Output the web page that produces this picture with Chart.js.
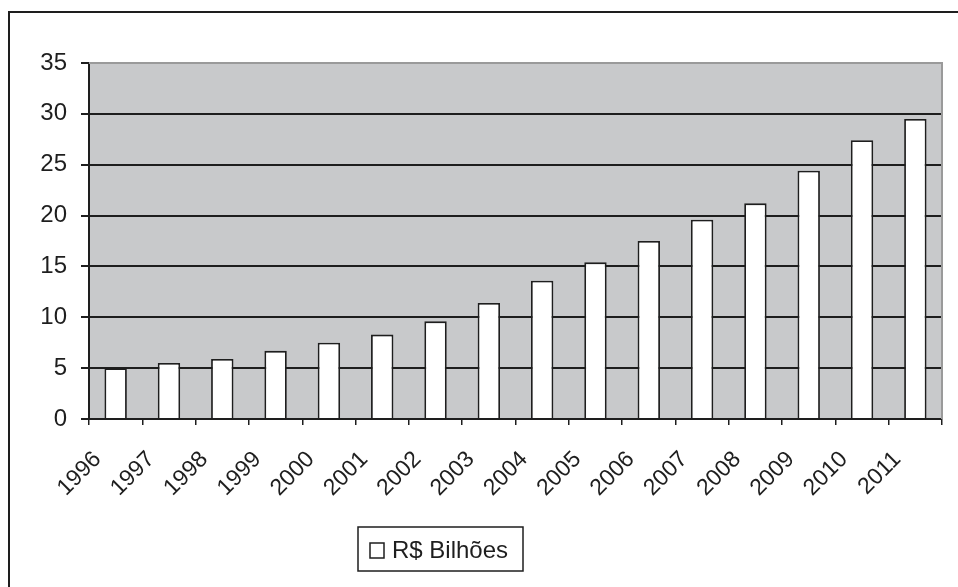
<!DOCTYPE html>
<html>
<head>
<meta charset="utf-8">
<script src="https://cdn.jsdelivr.net/npm/chart.js@4"></script>
<style>
  html, body { margin: 0; padding: 0; background: #fff; }
  #wrap { width: 958px; height: 587px; position: relative; }
</style>
</head>
<body>
<div id="wrap"><canvas id="chart1" width="958" height="587"></canvas></div>
<script>
"use strict"

// data
const years = ['1996','1997','1998','1999','2000','2001','2002','2003',
               '2004','2005','2006','2007','2008','2009','2010','2011']
const valores = [5.0, 5.5, 5.9, 6.7, 7.5, 8.3, 9.6, 11.4,
                 13.6, 15.4, 17.5, 19.6, 21.2, 24.4, 27.4, 29.5]
const serieNome = 'R$ Bilhões'
const yTicks = [0, 5, 10, 15, 20, 25, 30, 35]

const fonte = '"Liberation Sans", Arial, sans-serif'

// gray plot background, outer frame and legend box
const moldura = {
    id: 'moldura',
    beforeDraw(chart){
        const c = chart.ctx, a = chart.chartArea
        c.save()
        c.fillStyle = '#c8c9cb'
        c.fillRect(a.left, a.top, a.right - a.left, a.bottom - a.top)
        c.strokeStyle = '#1e1e1e'
        c.lineWidth = 2
        c.strokeRect(9, 12, 1000, 700)
        c.restore()
    },
    afterDraw(chart){
        const c = chart.ctx, a = chart.chartArea
        c.save()
        // light gray top/right border of plot
        c.strokeStyle = '#9a9a9a'
        c.lineWidth = 2
        c.beginPath()
        c.moveTo(a.left, a.top)
        c.lineTo(a.right, a.top)
        c.lineTo(a.right, a.bottom)
        c.stroke()
        // legend
        const ds = chart.data.datasets[0]
        c.strokeStyle = '#1e1e1e'
        c.lineWidth = 1.5
        c.strokeRect(358, 527, 165, 44)
        c.fillStyle = '#fff'
        c.fillRect(370, 543, 14, 15)
        c.strokeRect(370, 543, 14, 15)
        c.fillStyle = '#1e1e1e'
        c.font = '24px ' + fonte
        c.textBaseline = 'middle'
        c.fillText(ds.label, 392, 551)
        c.restore()
    }
}

const ctx = document.getElementById('chart1')
new Chart(ctx, {
    type: 'bar',
    data: {
        labels: years,
        datasets: [{
            label: serieNome,
            data: valores,
            backgroundColor: '#ffffff',
            borderColor: '#1e1e1e',
            borderWidth: 1.8,
            barPercentage: 0.42,
            categoryPercentage: 1
        }]
    },
    options: {
        responsive: false,
        animation: false,
        events: [],
        layout: { padding: { top: 63, right: 16, left: 0, bottom: 0 } },
        plugins: { legend: { display: false }, tooltip: { enabled: false } },
        scales: {
            x: {
                offset: true,
                grid: { offset: true, drawOnChartArea: false, drawTicks: true, tickLength: 6, color: '#1e1e1e', lineWidth: 1.5 },
                border: { display: true, color: '#1e1e1e', width: 2 },
                ticks: {
                    color: '#1e1e1e',
                    font: { family: fonte, size: 23 },
                    minRotation: 45, maxRotation: 45,
                    labelOffset: -18,
                    padding: 21,
                    autoSkip: false
                },
                afterFit(scale){ scale.height = 168 }
            },
            y: {
                min: 0, max: 35,
                afterBuildTicks(scale){ scale.ticks = yTicks.map(v => ({ value: v })) },
                grid: { color: '#1e1e1e', lineWidth: 2, drawTicks: true, tickLength: 8 },
                border: { display: true, color: '#1e1e1e', width: 2 },
                ticks: {
                    color: '#1e1e1e',
                    font: { family: fonte, size: 24 },
                    padding: 14
                },
                afterFit(scale){ scale.width = 89 }
            }
        }
    },
    plugins: [moldura]
})
</script>
</body>
</html>
